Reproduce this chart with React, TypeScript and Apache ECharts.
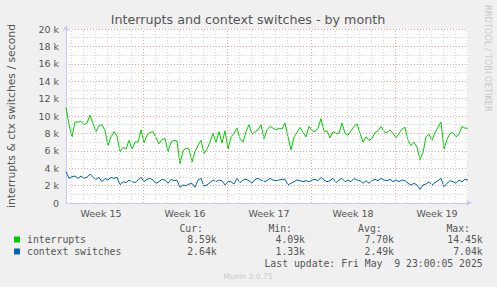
import React, { useEffect, useRef } from "react";
import * as echarts from "echarts";

// sample step (hours) between readings; first reading at hour 0
const STEP_HOURS = 6;
const X_MAX_HOURS = 804;

// interrupts per second (thousands)
const interrupts = [
  11.0, 9.0, 7.6, 9.3, 9.3, 9.4, 9.0, 9.2, 10.1, 9.1, 8.2, 8.9, 9.0, 8.3, 6.6, 7.6, 8.2, 7.7, 5.9, 6.4,
  6.2, 7.2, 6.2, 7.0, 7.0, 8.4, 6.9, 7.8, 8.1, 8.2, 7.5, 6.8, 7.3, 7.4, 5.9,
  7.0, 7.2, 7.1, 4.5, 6.0, 6.3, 6.2, 4.7, 5.9, 6.6, 7.2, 5.7, 6.2, 7.0, 8.0, 7.0, 8.2, 6.9, 8.3, 6.2,
  7.6, 8.0, 8.6, 7.4, 7.0, 8.2, 9.0, 7.9, 8.2, 8.4, 9.0, 7.4, 8.4,
  8.8, 8.6, 8.4, 8.6, 8.5, 9.2, 7.6, 6.1, 7.6, 8.1, 8.7, 8.1, 7.6, 8.8, 8.3, 8.2, 8.6, 9.7, 8.2, 8.3,
  7.5, 8.2, 8.0, 8.0, 9.2, 8.0, 7.8, 8.3, 8.8, 9.1, 8.0, 7.0, 7.6,
  7.2, 7.4, 8.1, 8.3, 8.8, 8.2, 8.1, 8.4, 8.0, 7.5, 8.0, 8.5, 8.7, 7.2, 6.6, 7.0, 6.4, 5.0, 5.8, 7.6,
  7.9, 7.2, 8.1, 8.7, 9.3, 6.2, 7.3, 8.0, 8.1, 7.6, 7.9, 8.8, 8.6, 8.6,
];

// context switches per second (thousands)
const contextSwitches = [
  3.6, 2.83, 3.03, 3.1, 2.83, 3.1, 2.83, 2.95, 3.33, 2.95, 2.72, 2.95, 2.45, 2.83, 2.64, 2.95, 2.83, 2.95, 2.07, 2.45,
  2.34, 2.64, 2.45, 2.34, 2.64, 2.95, 2.45, 2.72, 2.83, 2.64, 2.26, 2.45, 2.72, 2.64, 2.26,
  2.72, 2.57, 2.64, 1.8, 2.07, 2.0, 2.18, 2.26, 1.8, 2.64, 2.83, 1.95, 2.07, 2.34, 2.64, 2.45, 2.64, 2.57, 2.07, 2.45,
  2.45, 2.18, 2.83, 2.34, 2.64, 2.72, 2.57, 2.26, 2.72, 2.83, 2.64, 2.45, 2.57,
  2.83, 2.64, 2.57, 2.64, 2.72, 2.72, 2.07, 2.26, 2.45, 2.64, 2.57, 2.45, 2.57, 2.45, 2.64, 2.72, 2.57, 2.95, 2.64, 2.45,
  2.57, 2.83, 2.34, 2.64, 2.83, 2.45, 2.64, 2.45, 2.83, 2.64, 2.57, 2.26, 2.57,
  2.26, 2.57, 2.72, 2.57, 2.83, 2.64, 2.57, 2.72, 2.45, 2.64, 2.45, 2.64, 2.57, 2.26, 2.07, 2.26, 2.07, 1.57, 2.07, 2.18,
  2.45, 2.07, 2.34, 2.57, 2.83, 1.88, 2.26, 2.57, 2.45, 2.26, 2.64, 2.45, 2.72, 2.64,
];

// week boundaries (hours from start) and labels
const weekStarts = [154, 322, 490, 658];
const weekLabels = ["Week 15", "Week 16", "Week 17", "Week 18", "Week 19"];
const weekLabelCenters = [70, 238, 406, 574, 742];
const dayOffset = 10; // first day boundary (hours)

const legendNames = ["interrupts", "context switches"];
const legendColors = ["#00cc00", "#0066b3"];
const statHeaders = ["Cur:", "Min:", "Avg:", "Max:"];
const statValues = [
  ["8.59k", "4.09k", "7.70k", "14.45k"],
  ["2.64k", "1.33k", "2.49k", "7.04k"],
];
const lastUpdate = "Last update: Fri May  9 23:00:05 2025";

export default function App() {
  const ref = useRef<HTMLDivElement>(null);
  useEffect(() => {
    if (!ref.current) return;
    const chart = echarts.init(ref.current, null, { renderer: "svg" });
    const toPairs = (arr: number[]) => arr.map((v, i) => [i * STEP_HOURS, v]);

    const vLines: any[] = [];
    for (let h = dayOffset; h < X_MAX_HOURS; h += 24) {
      const isWeek = weekStarts.includes(h);
      vLines.push({
        xAxis: h,
        lineStyle: isWeek
          ? { color: "#f0a0a0", type: [1, 2], width: 1 }
          : { color: "#d4d4d4", type: [1, 2], width: 1 },
      });
    }

    const mono = "'DejaVu Sans Mono', monospace";
    const sans = "'DejaVu Sans', sans-serif";
    const colX = [203, 292, 381.7, 470];
    const valX = [216.7, 305, 394, 482.7];
    const graphics: any[] = [
      {
        type: "text",
        x: 248,
        y: 19,
        style: { text: "Interrupts and context switches - by month", font: `12.7px ${sans}`, fill: "#555", textAlign: "center", textVerticalAlign: "middle" },
      },
      {
        type: "text",
        x: 11,
        y: 116,
        rotation: Math.PI / 2,
        style: { text: "interrupts & ctx switches / second", font: `10.8px ${sans}`, fill: "#555", textAlign: "center", textVerticalAlign: "middle" },
      },
      {
        type: "text",
        x: 488,
        y: 5,
        rotation: -Math.PI / 2,
        style: { text: "RRDTOOL / TOBI OETIKER", font: `8.3px ${sans}`, fill: "#c8c8c8", textAlign: "left", textVerticalAlign: "middle" },
      },
      {
        type: "text",
        x: 248,
        y: 276,
        style: { text: "Munin 2.0.75", font: `7.5px ${sans}`, fill: "#c8c8c8", textAlign: "center", textVerticalAlign: "middle" },
      },
      {
        type: "text",
        x: 482.7,
        y: 263,
        style: { text: lastUpdate, font: `9.8px ${mono}`, fill: "#555", textAlign: "right", textVerticalAlign: "middle" },
      },
    ];
    statHeaders.forEach((h, i) => {
      graphics.push({
        type: "text",
        x: colX[i],
        y: 228,
        style: { text: h, font: `9.8px ${mono}`, fill: "#555", textAlign: "right", textVerticalAlign: "middle" },
      });
    });
    legendNames.forEach((name, r) => {
      const y = 239.5 + r * 12;
      graphics.push({ type: "rect", shape: { x: 14, y: y - 3, width: 6, height: 6 }, style: { fill: legendColors[r] } });
      graphics.push({
        type: "text",
        x: 27,
        y,
        style: { text: name, font: `9.8px ${mono}`, fill: "#555", textAlign: "left", textVerticalAlign: "middle" },
      });
      statValues[r].forEach((v, i) => {
        graphics.push({
          type: "text",
          x: valX[i],
          y,
          style: { text: v, font: `9.8px ${mono}`, fill: "#555", textAlign: "right", textVerticalAlign: "middle" },
        });
      });
    });

    chart.setOption({
      animation: false,
      backgroundColor: "#f0f0f0",
      grid: { left: 66, right: 29, top: 29, bottom: 84, backgroundColor: "#ffffff", show: true, borderWidth: 0 },
      xAxis: {
        type: "value",
        min: 0,
        max: X_MAX_HOURS,
        axisLine: { show: true, lineStyle: { color: "#c8c8ff", width: 1 }, symbol: ["none", "arrow"], symbolSize: [5, 6], symbolOffset: [0, 4] },
        axisTick: { show: false },
        splitLine: { show: false },
        axisLabel: {
          customValues: weekLabelCenters,
          formatter: (v: number) => {
            const i = weekLabelCenters.indexOf(v);
            return i >= 0 ? weekLabels[i] : "";
          },
          color: "#555",
          fontFamily: "DejaVu Sans",
          fontSize: 9.5,
          margin: 5,
        },
      },
      yAxis: {
        type: "value",
        min: 0,
        max: 20,
        interval: 2,
        axisLine: { show: true, lineStyle: { color: "#c8c8ff", width: 1 }, symbol: ["none", "arrow"], symbolSize: [5, 6], symbolOffset: [0, 4] },
        axisTick: { show: false },
        axisLabel: {
          formatter: (v: number) => (v === 0 ? "0" : `${v} k`),
          color: "#555",
          fontFamily: "DejaVu Sans",
          fontSize: 9.5,
          margin: 7,
        },
        splitLine: { show: true, lineStyle: { color: "#f0a0a0", type: [1, 2], width: 1 } },
        minorTick: { show: false, splitNumber: 2 },
        minorSplitLine: { show: true, lineStyle: { color: "#d4d4d4", type: [1, 2], width: 1 } },
      },
      graphic: graphics,
      series: [
        {
          type: "line",
          name: "grid",
          data: toPairs(contextSwitches),
          showSymbol: false,
          lineStyle: { opacity: 0 },
          z: 1,
          silent: true,
          markLine: { silent: true, symbol: ["none", "none"], label: { show: false }, data: vLines, animation: false },
        },
        {
          type: "line",
          name: legendNames[1],
          data: toPairs(contextSwitches),
          showSymbol: false,
          lineStyle: { color: legendColors[1], width: 1 },
          itemStyle: { color: legendColors[1] },
          z: 3,
        },
        {
          type: "line",
          name: legendNames[0],
          data: toPairs(interrupts),
          showSymbol: false,
          lineStyle: { color: legendColors[0], width: 1 },
          itemStyle: { color: legendColors[0] },
          z: 3,
        },
      ],
    });
    return () => chart.dispose();
  }, []);
  return <div ref={ref} style={{ width: 497, height: 287, position: "absolute", left: 0, top: 0 }} />;
}
